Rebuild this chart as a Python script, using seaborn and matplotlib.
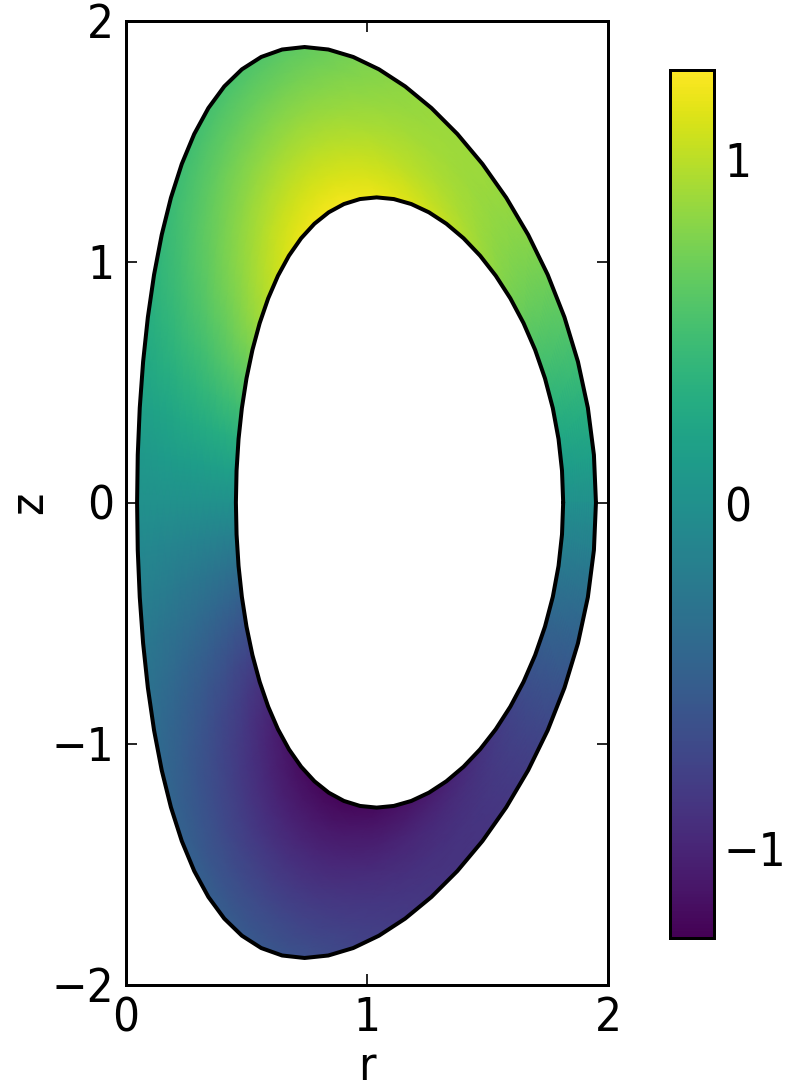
import numpy as np
import matplotlib
matplotlib.use("Agg")
import matplotlib.pyplot as plt
import seaborn as sns

# ---- data ----
# boundary shapes: [major radius, minor radius, half height, triangularity]
outer_shape = [0.998, 0.952, 1.89, 0.27]
inner_shape = [1.135, 0.679, 1.266, 0.14]
# field harmonics (coefficients of sin(m*theta), m = 1, 2, 3) on each boundary
field_inner = [1.24, -0.12, 0.05]
field_outer = [0.80, 0.206, 0.15]
color_limits = [-1.26, 1.26]
x_ticks = [0, 1, 2]
y_ticks = [-2, -1, 0, 1, 2]
cbar_ticks = [-1, 0, 1]

# ---- style ----
sns.set_style("ticks")
plt.rcParams['font.family'] = ['DejaVu Sans']
plt.rcParams['font.stretch'] = 'condensed'
plt.rcParams['font.size'] = 14.2
for key in ['text.color', 'axes.labelcolor', 'xtick.color', 'ytick.color', 'axes.edgecolor']:
    plt.rcParams[key] = 'black'

n_theta = 61
n_rad = 16
theta = np.linspace(0, 2 * np.pi, n_theta)
s = np.linspace(0, 1, n_rad)


def boundary(shape, th):
    r0, a, h, d = shape
    return r0 + a * np.cos(th + np.arcsin(d) * np.sin(th)), h * np.sin(th)


ri, zi = boundary(inner_shape, theta)
ro, zo = boundary(outer_shape, theta)
S, TH = np.meshgrid(s, theta, indexing="ij")
R = (1 - S) * ri[None, :] + S * ro[None, :]
Z = (1 - S) * zi[None, :] + S * zo[None, :]
F = np.zeros_like(R)
for m, (ci, co) in enumerate(zip(field_inner, field_outer), start=1):
    F += ((1 - S) * ci + S * co) * np.sin(m * TH)

fig = plt.figure(figsize=(789 / 240, 1091 / 240), dpi=240)
ax = fig.add_axes([126 / 789, 1 - 985 / 1091, 482 / 789, 965 / 1091])
cmap = sns.color_palette("viridis", as_cmap=True)
mesh = ax.pcolormesh(R, Z, F, shading="gouraud", cmap=cmap,
                     vmin=color_limits[0], vmax=color_limits[1], rasterized=True)
ax.plot(ro, zo, color="black", lw=1.2, solid_joinstyle="miter")
ax.plot(ri, zi, color="black", lw=1.2, solid_joinstyle="miter")

ax.set_xlim(0, 2)
ax.set_ylim(-2, 2)
ax.set_aspect("equal")
ax.set_xticks(x_ticks)
ax.set_yticks(y_ticks)
ax.set_xlabel("r", labelpad=1)
ax.set_ylabel("z", labelpad=0)
ax.tick_params(direction="in", top=True, right=True, length=3.2, width=0.5,
               pad=3.5, color="black", labelcolor="black")
for sp in ax.spines.values():
    sp.set_linewidth(0.9)
    sp.set_color("black")

cax = fig.add_axes([670 / 789, 1 - 938 / 1091, 44 / 789, 868 / 1091])
cb = fig.colorbar(mesh, cax=cax, ticks=cbar_ticks)
cb.outline.set_linewidth(0.9)
cb.outline.set_edgecolor("black")
cax.tick_params(direction="in", length=3.2, width=0.5, pad=3,
                color="black", labelcolor="black")

fig.savefig("out.png", dpi=240)
